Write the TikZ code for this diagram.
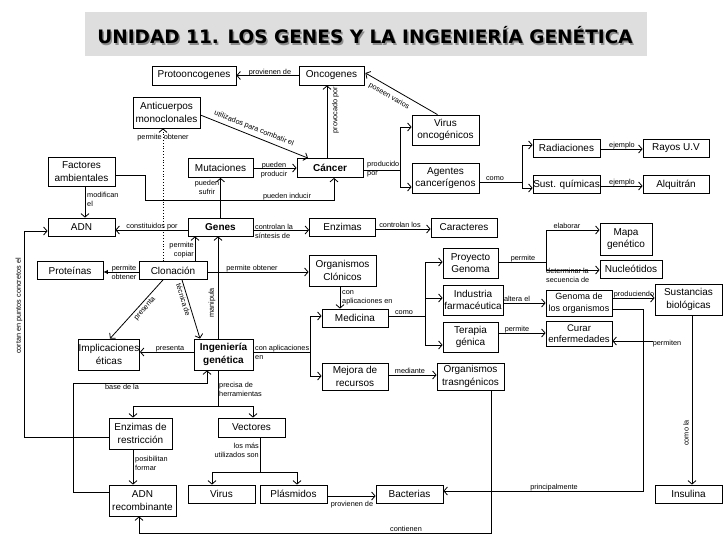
\documentclass[tikz,border=0pt]{standalone}
\usepackage{fontspec}
\setmainfont{Liberation Sans}
\newfontfamily\titlefont{DejaVu Sans}
\usetikzlibrary{arrows.meta,calc}
\begin{document}
\begin{tikzpicture}[x=1pt,y=-1pt,
 box/.style={draw, line width=0.8pt, fill=white, inner sep=0pt, align=center, font=\fontsize{10}{12.5}\selectfont},
 bbox/.style={box, font=\fontsize{10}{12.5}\selectfont\bfseries},
 lbl/.style={inner sep=0pt, font=\fontsize{7.3}{9}\selectfont},
 arr/.style={line width=0.8pt, -{Straight Barb[length=3.5pt,width=8pt]}},
 ln/.style={line width=0.8pt},
 ttl/.style={inner sep=0pt, font=\titlefont\bfseries\fontsize{18.5}{20}\selectfont}
]
\useasboundingbox (0,0) rectangle (728,546);
\fill[white] (0,0) rectangle (728,546);
% title
\fill[black!13] (85,12) rectangle (647,56);
\node[ttl, text=black!45] (titleshadow) at (366.5,37) {UNIDAD 11. LOS GENES Y LA INGENIERÍA GENÉTICA};
\node[ttl] (title) at (365,35.5) {UNIDAD 11. LOS GENES Y LA INGENIERÍA GENÉTICA};

% boxes
\node[box,minimum width=84pt,minimum height=19pt] (proto) at (194,75.5) {Protooncogenes};
\node[box,minimum width=65pt,minimum height=19pt] (onco) at (331.5,75.5) {Oncogenes};
\node[box,minimum width=67pt,minimum height=31pt] (anti) at (166.5,112.5) {Anticuerpos\\monoclonales};
\node[box,minimum width=67pt,minimum height=30pt] (viro) at (445.5,130) {Virus\\oncogénicos};
\node[box,minimum width=65pt,minimum height=19pt] (mut) at (220.5,168) {Mutaciones};
\node[bbox,minimum width=66pt,minimum height=19pt] (canc) at (330,168) {Cáncer};
\node[box,minimum width=67pt,minimum height=29pt] (fact) at (81.5,171.5) {Factores\\ambientales};
\node[box,minimum width=67pt,minimum height=30pt] (agen) at (445.5,178) {Agentes\\cancerígenos};
\node[box,minimum width=67pt,minimum height=18pt] (radi) at (566.5,148) {Radiaciones};
\node[box,minimum width=66pt,minimum height=18pt] (rayo) at (676,148) {Rayos U.V};
\node[box,minimum width=67pt,minimum height=18pt] (sust) at (566.5,184.5) {Sust. químicas};
\node[box,minimum width=66pt,minimum height=18pt] (alqu) at (676,184.5) {Alquitrán};
\node[box,minimum width=67pt,minimum height=18pt] (adn) at (81.5,227) {ADN};
\node[bbox,minimum width=65pt,minimum height=18pt] (genes) at (220.5,227) {Genes};
\node[box,minimum width=66pt,minimum height=18pt] (enzi) at (342.5,227) {Enzimas};
\node[box,minimum width=66pt,minimum height=19pt] (cara) at (464,227.5) {Caracteres};
\node[box,minimum width=52pt,minimum height=32pt] (mapa) at (626,239) {Mapa\\genético};
\node[box,minimum width=55pt,minimum height=30pt] (proy) at (470.5,263) {Proyecto\\Genoma};
\node[box,minimum width=62pt,minimum height=18pt] (nucl) at (631,269) {Nucleótidos};
\node[box,minimum width=66pt,minimum height=18pt] (prot) at (70,270.5) {Proteínas};
\node[box,minimum width=68pt,minimum height=18pt] (clon) at (173,270.5) {Clonación};
\node[box,minimum width=67pt,minimum height=31pt] (orgc) at (342.5,270.5) {Organismos\\Clónicos};
\node[box,minimum width=60pt,minimum height=30pt] (indu) at (473,300) {Industria\\farmacéutica};
\node[box,minimum width=66pt,minimum height=26pt,font=\fontsize{9}{11.5}\selectfont] (geno) at (579,303) {Genoma de\\los organismos};
\node[box,minimum width=67pt,minimum height=31pt] (sustb) at (688.5,299.5) {Sustancias\\biológicas};
\node[box,minimum width=66pt,minimum height=18pt] (medi) at (355,318) {Medicina};
\node[box,minimum width=55pt,minimum height=30pt] (tera) at (470.5,337) {Terapia\\génica};
\node[box,minimum width=66pt,minimum height=25pt,font=\fontsize{9.6}{11.5}\selectfont] (cura) at (579,333.5) {Curar\\enfermedades};
\node[box,minimum width=61pt,minimum height=31pt] (impl) at (109,354.5) {Implicaciones\\éticas};
\node[bbox,minimum width=59pt,minimum height=31pt] (inge) at (223.5,354.5) {Ingeniería\\genética};
\node[box,minimum width=66pt,minimum height=27pt] (mejo) at (355,376.5) {Mejora de\\recursos};
\node[box,minimum width=67pt,minimum height=27pt] (orgt) at (470.5,376.5) {Organismos\\trasngénicos};
\node[box,minimum width=63pt,minimum height=31pt] (enzr) at (140.5,433.5) {Enzimas de\\restricción};
\node[box,minimum width=67pt,minimum height=19pt] (vect) at (251.5,427.5) {Vectores};
\node[box,minimum width=67pt,minimum height=31pt] (adnr) at (142.5,500.5) {ADN\\recombinante};
\node[box,minimum width=67pt,minimum height=18pt] (viru) at (221.5,494) {Virus};
\node[box,minimum width=67pt,minimum height=18pt] (plas) at (293.5,494) {Plásmidos};
\node[box,minimum width=67pt,minimum height=18pt] (bact) at (409.5,494) {Bacterias};
\node[box,minimum width=67pt,minimum height=18pt] (insu) at (688.5,494) {Insulina};

% connectors
\draw[arr] (onco.west) -- (proto.east);
\node[lbl,anchor=base] (l1) at (270,74) {provienen de};

\draw[arr] ($(viro.north)+(-8,0)$) -- ($(onco.east)+(1,-2.5)$);
\node[lbl,rotate=-30] (l2) at (389,96) {poseen varios};

\draw[arr] ($(anti.east)+(0,2.5)$) -- ($(canc.north)+(-22,0)$);
\node[lbl,rotate=-21.6] (l3) at (254,128.5) {utilizados para combatir el};

\draw[arr] ($(canc.north)+(-3,0)$) -- ($(onco.south)+(-4.5,0)$);
\node[lbl,rotate=90] (l4) at (335.5,110) {provocado por};

\draw[arr,dotted] ($(clon.north)+(-10,0)$) -- ($(anti.south)+(-3.5,0)$);
\node[lbl] (l5) at (163,138) {permite obtener};

\draw[arr] (mut.east) -- (canc.west);
\node[lbl,align=center] (l6) at (274,170.5) {pueden\\producir};

\draw[arr] (genes.north) -- (mut.south);
\node[lbl,align=center] (l7) at (207,187) {pueden\\sufrir};

\coordinate (b1) at (145,200);
\draw[arr] ($(fact.east)+(0,4)$) -| (b1) -| ($(canc.south)+(4,0)$);
\node[lbl,anchor=base] (l8) at (287,198.5) {pueden inducir};

\draw[arr] ($(fact.south)+(3.5,0)$) -- ($(adn.north)+(3.5,0)$);
\node[lbl,align=left,anchor=north west] (l9) at (87,192) {modifican\\el};

\coordinate (b2) at (400,170);
\draw[ln] ($(canc.east)+(0,2)$) -- (b2);
\draw[arr] (b2) |- ($(viro.west)+(0,-3)$);
\draw[arr] (b2) |- ($(agen.west)+(0,9)$);
\node[lbl,align=left,anchor=west] (l10) at (367,169.5) {producido\\por};

\coordinate (b3) at (522,182);
\draw[ln] ($(agen.east)+(0,4)$) -- (b3);
\draw[arr] (b3) |- ($(radi.west)+(0,-3)$);
\draw[arr] (b3) |- ($(sust.west)+(0,3.5)$);
\node[lbl,anchor=base] (l11) at (495,180) {como};

\draw[arr] ($(radi.east)+(0,1)$) -- ($(rayo.west)+(0,1)$);
\node[lbl,anchor=base] (l12) at (622,147.5) {ejemplo};
\draw[arr] ($(sust.east)+(0,1.5)$) -- ($(alqu.west)+(0,1.5)$);
\node[lbl,anchor=base] (l13) at (622,184.5) {ejemplo};

\draw[arr] ($(genes.west)+(0,3)$) -- ($(adn.east)+(0,3)$);
\node[lbl,anchor=base] (l14) at (152,228.5) {constituidos por};
\draw[arr] ($(genes.east)+(0,3)$) -- ($(enzi.west)+(0,3)$);
\node[lbl,align=left,anchor=west] (l15) at (255,231.5) {controlan la\\síntesis de};
\draw[arr] ($(enzi.east)+(0,2)$) -- ($(cara.west)+(0,1.5)$);
\node[lbl,anchor=base] (l16) at (400,227.5) {controlan los};

\coordinate (c1) at ($(clon.north)+(22,0)$);
\draw[arr] (c1) -- (c1 |- genes.south);
\node[lbl,align=right,anchor=east] (l17) at (194,250) {permite\\copiar};

\draw[ln,-{Latex[length=4.5pt,width=4.5pt]}] ($(clon.west)+(0,1.5)$) -- ($(prot.east)+(0,1.5)$);
\node[lbl,align=center] (l18) at (124,272) {permite\\obtener};

\draw[arr] ($(clon.east)+(0,1.5)$) -- ($(orgc.west)+(0,1.5)$);
\node[lbl,anchor=base] (l19) at (252,270) {permite obtener};

\draw[arr] ($(clon.south)+(-10,0)$) -- ($(impl.north)+(1,0)$);
\node[lbl,rotate=49] (l20) at (145,309) {presenta};

\draw[arr] ($(clon.south)+(9,0)$) -- ($(inge.north)+(-23.5,0)$);
\node[lbl,rotate=-73] (l21) at (183.5,300) {técnica de};

\coordinate (c2) at ($(inge.north)+(-5.5,0)$);
\draw[arr] (c2) -- (c2 |- genes.south);
\node[lbl,rotate=90] (l22) at (212,303) {manipula};

\draw[arr] ($(inge.west)+(0,-2.5)$) -- ($(impl.east)+(0,-2.5)$);
\node[lbl,anchor=base] (l23) at (170,350) {presenta};

\coordinate (b4) at (310,352);
\draw[ln] ($(inge.east)+(0,-2.5)$) -- (b4);
\draw[arr] (b4) |- ($(medi.west)+(0,-2)$);
\draw[arr] (b4) |- ($(mejo.west)+(0,-0.5)$);
\node[lbl,align=left,anchor=west] (l24) at (255,352) {con aplicaciones\\en};

\coordinate (c3) at ($(orgc.south)+(-2.5,0)$);
\draw[arr] (c3) -- (c3 |- medi.north);
\node[lbl,align=left,anchor=north west] (l25) at (342,290) {con\\aplicaciones en};

\coordinate (b5) at (425,316);
\draw[ln] ($(medi.east)+(0,-2)$) -- (b5);
\draw[arr] (b5) |- ($(proy.west)+(0,-1)$);
\draw[arr] (b5) |- ($(indu.west)+(0,-2)$);
\draw[arr] (b5) |- ($(tera.west)+(0,8)$);
\node[lbl,anchor=base] (l26) at (404,314.5) {como};

\coordinate (b6) at (546,262);
\draw[ln] ($(proy.east)+(0,-1)$) -- (b6);
\draw[arr] (b6) |- ($(mapa.west)+(0,-9)$);
\draw[arr] (b6) |- ($(nucl.west)+(0,1)$);
\node[lbl,anchor=base] (l27) at (523,260) {permite};
\node[lbl,anchor=base] (l28) at (567,228) {elaborar};
\node[lbl,align=left,anchor=west] (l29) at (546,275) {determinar la\\secuencia de};

\draw[arr] ($(indu.east)+(0,3)$) -- (geno.west);
\node[lbl,anchor=base] (l30) at (517,301) {altera el};

\draw[arr] ($(geno.east)+(0,-5)$) -- ($(sustb.west)+(0,-1.5)$);
\node[lbl,anchor=base] (l31) at (634,296) {produciendo};

\coordinate (b7) at (643,491);
\draw[arr] ($(geno.east)+(0,6)$) -| (b7) -- ($(bact.east)+(0,-3)$);
\node[lbl,anchor=base] (l32) at (554,489) {principalmente};

\draw[arr] ($(tera.east)+(0,-4)$) -- ($(cura.west)+(0,-0.5)$);
\node[lbl,anchor=base] (l33) at (517,331) {permite};

\node[lbl] (lperm) at (667,344) {permiten};
\draw[arr] ($(lperm.west)+(0,-3)$) -- ($(cura.east)+(0,7.5)$);

\coordinate (c4) at ($(sustb.south)+(3.5,0)$);
\draw[arr] (c4) -- (c4 |- insu.north);
\node[lbl,rotate=90] (l34) at (686,433) {como la};

\draw[arr] ($(mejo.east)+(0,-1.5)$) -- ($(orgt.west)+(0,-1.5)$);
\node[lbl,anchor=base] (l35) at (410,373) {mediante};

\coordinate (b8) at (491,533);
\draw[arr] ($(orgt.south)+(20.5,0)$) -- (b8) -| ($(adnr.south)+(-3.5,0)$);
\node[lbl,anchor=base] (l36) at (406,531) {contienen};

\coordinate (b9) at (218,406);
\draw[ln] ($(inge.south)+(-5.5,0)$) -- (b9);
\draw[arr] (b9) -| ($(enzr.north)+(-7.5,0)$);
\draw[arr] (b9) -| ($(vect.north)+(1.5,0)$);
\node[lbl,align=left,anchor=west] (l37) at (219,389.5) {precisa de\\herramientas};

\coordinate (b10) at (73,383);
\draw[arr] ($(adnr.west)+(0,-8.5)$) -| (b10) -| ($(inge.south)+(-16.5,0)$);
\node[lbl,anchor=north] (l38) at (122,384.5) {base de la};

\draw[arr] ($(enzr.south)+(-7.5,0)$) -- ($(adnr.north)+(-9.5,0)$);
\node[lbl,align=left,anchor=west] (l39) at (135,463) {posibilitan\\formar};

\coordinate (b11) at (24,231);
\draw[arr] ($(enzr.west)+(0,3.5)$) -| (b11) -- ($(adn.west)+(0,4)$);
\node[lbl,rotate=90] (l40) at (19,306) {cortan en puntos concretos el};

\coordinate (b12) at (260,472);
\draw[ln] ($(vect.south)+(8.5,0)$) -- (b12);
\draw[arr] (b12) -| ($(viru.north)+(-9.5,0)$);
\draw[arr] (b12) -| ($(plas.north)+(3.5,0)$);
\node[lbl,align=right,anchor=east] (l41) at (259,450.5) {los más\\utilizados son};

\draw[arr] ($(plas.east)+(0,2)$) -- ($(bact.west)+(0,2)$);
\node[lbl,anchor=north] (l42) at (352,501) {provienen de};
\end{tikzpicture}
\end{document}
